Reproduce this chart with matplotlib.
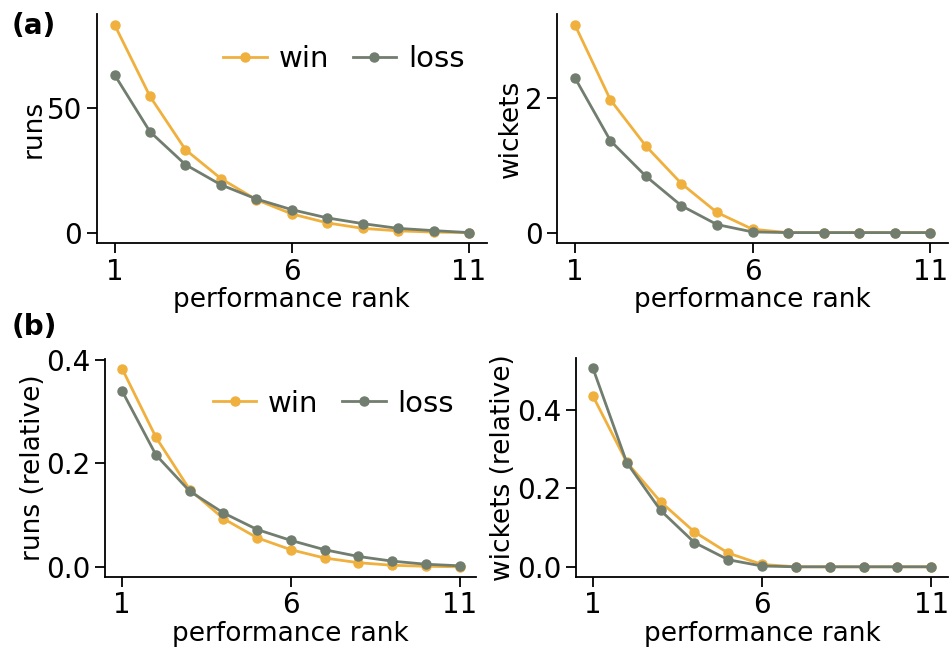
import matplotlib
matplotlib.use('Agg')
import matplotlib.pyplot as plt

rank = list(range(1, 12))

runs_win = [83.5, 54.7, 33.3, 21.7, 13.2, 7.5, 3.9, 1.7, 0.7, 0.2, 0.0]
runs_loss = [63.4, 40.5, 27.3, 19.2, 13.5, 9.2, 5.9, 3.6, 1.7, 0.8, 0.0]

wkts_win = [3.10, 1.98, 1.29, 0.73, 0.30, 0.05, 0.0, 0.0, 0.0, 0.0, 0.0]
wkts_loss = [2.31, 1.37, 0.84, 0.40, 0.12, 0.01, 0.0, 0.0, 0.0, 0.0, 0.0]

runs_win_rel = [0.382, 0.250, 0.149, 0.093, 0.056, 0.033, 0.017, 0.008, 0.003, 0.001, 0.0]
runs_loss_rel = [0.339, 0.216, 0.146, 0.104, 0.072, 0.051, 0.033, 0.020, 0.011, 0.005, 0.002]

wkts_win_rel = [0.436, 0.267, 0.166, 0.089, 0.035, 0.006, 0.0, 0.0, 0.0, 0.0, 0.0]
wkts_loss_rel = [0.507, 0.266, 0.144, 0.062, 0.018, 0.002, 0.0, 0.0, 0.0, 0.0, 0.0]

c_win = '#f0b03e'
c_loss = '#717d6e'

plt.rcParams['font.family'] = 'DejaVu Sans'

fig = plt.figure(figsize=(9.49, 6.48), dpi=100)

# axes placed by hand to follow the reference layout
ax1 = fig.add_axes([0.102, 0.625, 0.411, 0.353])
ax2 = fig.add_axes([0.587, 0.625, 0.412, 0.353])
ax3 = fig.add_axes([0.111, 0.110, 0.391, 0.336])
ax4 = fig.add_axes([0.607, 0.110, 0.392, 0.337])

panels = [
    (ax1, runs_win, runs_loss, 'runs', [0, 50]),
    (ax2, wkts_win, wkts_loss, 'wickets', [0, 2]),
    (ax3, runs_win_rel, runs_loss_rel, 'runs (relative)', [0.0, 0.2, 0.4]),
    (ax4, wkts_win_rel, wkts_loss_rel, 'wickets (relative)', [0.0, 0.2, 0.4]),
]

for ax, w, l, ylab, yt in panels:
    ax.plot(rank, w, '-o', color=c_win, lw=2, ms=6.5, label='win')
    ax.plot(rank, l, '-o', color=c_loss, lw=2, ms=6.5, label='loss')
    ax.spines['top'].set_visible(False)
    ax.spines['right'].set_visible(False)
    ax.spines['left'].set_linewidth(1.3)
    ax.spines['bottom'].set_linewidth(1.3)
    ax.set_xticks([1, 6, 11])
    ax.set_yticks(yt)
    ax.tick_params(labelsize=20, length=7, width=1.3)
    ax.set_xlabel('performance rank', fontsize=19, labelpad=1)
    ax.set_ylabel(ylab, fontsize=19, labelpad=0.5)

ax3.set_yticklabels(['0.0', '0.2', '0.4'])
ax4.set_yticklabels(['0.0', '0.2', '0.4'])

for ax in [ax1, ax3]:
    ax.legend(loc='upper right', bbox_to_anchor=(1.01, 0.98), ncol=2, frameon=False,
              fontsize=21, handlelength=1.5, columnspacing=0.8, handletextpad=0.4)

fig.text(0.012, 0.948, '(a)', fontsize=20, fontweight='bold')
fig.text(0.012, 0.483, '(b)', fontsize=20, fontweight='bold')

fig.savefig('out.png', dpi=100)
